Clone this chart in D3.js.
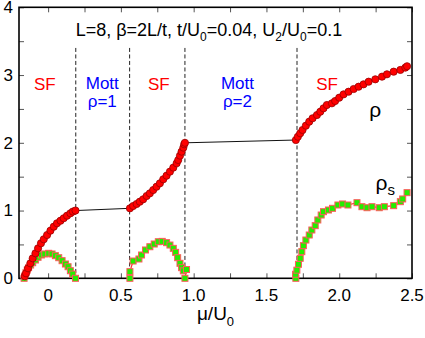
<!DOCTYPE html>
<html>
<head>
<meta charset="utf-8">
<script src="https://cdn.jsdelivr.net/npm/d3@7"></script>
<style>
  body { margin: 0; background: #fff; }
  svg text { font-family: "Liberation Sans", Arial, sans-serif; }
</style>
</head>
<body>
<script>
// density rho, three superfluid branches (the line runs across the Mott plateaus)
const rhoMu = [-0.161, -0.152, -0.138, -0.122, -0.106, -0.087, -0.069, -0.049, -0.030, -0.007, 0.016, 0.039, 0.061, 0.085, 0.107, 0.130, 0.153, 0.170, 0.188,
  0.562, 0.584, 0.608, 0.630, 0.653, 0.677, 0.699, 0.722, 0.745, 0.768, 0.791, 0.814, 0.837, 0.860, 0.883, 0.894, 0.906, 0.917, 0.929, 0.935, 0.940,
  1.702, 1.716, 1.732, 1.748, 1.771, 1.794, 1.817, 1.847, 1.870, 1.892, 1.915, 1.950, 1.972, 2.000, 2.030, 2.064, 2.099, 2.133, 2.167, 2.202, 2.248, 2.294, 2.328, 2.374, 2.420, 2.454, 2.466];
const rhoVal = [0.03, 0.074, 0.148, 0.221, 0.295, 0.369, 0.443, 0.517, 0.576, 0.639, 0.703, 0.762, 0.812, 0.850, 0.886, 0.924, 0.959, 0.985, 1.0,
  1.033, 1.067, 1.097, 1.131, 1.166, 1.215, 1.254, 1.303, 1.352, 1.402, 1.461, 1.515, 1.574, 1.633, 1.697, 1.746, 1.810, 1.869, 1.928, 1.978, 2.0,
  2.041, 2.090, 2.140, 2.189, 2.253, 2.312, 2.362, 2.410, 2.459, 2.509, 2.558, 2.583, 2.617, 2.666, 2.715, 2.754, 2.794, 2.828, 2.863, 2.902, 2.937, 2.976, 3.011, 3.050, 3.075, 3.109, 3.130];

// superfluid density rho_s, one array per SF dome
const rhosMu1 = [-0.165, -0.161, -0.152, -0.143, -0.134, -0.120, -0.106, -0.087, -0.069, -0.046, -0.023, 0.004, 0.027, 0.050, 0.073, 0.096, 0.119, 0.137, 0.153, 0.169, 0.188];
const rhosVal1 = [0.0, 0.034, 0.083, 0.122, 0.157, 0.196, 0.230, 0.270, 0.310, 0.344, 0.359, 0.369, 0.359, 0.334, 0.304, 0.260, 0.211, 0.171, 0.112, 0.063, 0.0];
const rhosMu2 = [0.562, 0.562, 0.584, 0.624, 0.642, 0.669, 0.699, 0.729, 0.757, 0.784, 0.814, 0.837, 0.860, 0.876, 0.890, 0.906, 0.917, 0.929, 0.951, 0.940];
const rhosVal2 = [0.0, 0.098, 0.255, 0.285, 0.344, 0.418, 0.466, 0.506, 0.540, 0.545, 0.526, 0.491, 0.442, 0.383, 0.304, 0.221, 0.157, 0.110, 0.130, 0.0];
const rhosMu3 = [1.702, 1.700, 1.709, 1.720, 1.732, 1.743, 1.754, 1.771, 1.794, 1.812, 1.835, 1.853, 1.876, 1.892, 1.926, 1.954, 1.991, 2.023, 2.060, 2.122, 2.156, 2.191, 2.225, 2.275, 2.310, 2.374, 2.420, 2.436, 2.466];
const rhosVal3 = [0.0, 0.060, 0.120, 0.207, 0.295, 0.393, 0.482, 0.565, 0.639, 0.713, 0.777, 0.861, 0.934, 0.983, 1.008, 1.033, 1.082, 1.097, 1.082, 1.116, 1.057, 1.042, 1.057, 1.042, 1.057, 1.072, 1.131, 1.171, 1.264];

// phase boundaries and labels
const boundaries = [0.19, 0.56, 0.94, 1.71];
const sfLabelMu = [-0.023, 0.761, 1.917];
const mottLabelMu = [0.372, 1.301];
const mottLabelText = ['ρ=1', 'ρ=2'];

const xTicks = [0, 0.5, 1.0, 1.5, 2.0, 2.5];
const xTickLabels = ['0', '0.5', '1.0', '1.5', '2.0', '2.5'];
const yTicks = [0, 1, 2, 3, 4];

const svgWidth = 425;
const svgHeight = 338;
const margin = { top: 7.3, right: 13, bottom: 59.7, left: 19 };
const width = svgWidth - margin.left - margin.right;
const height = svgHeight - margin.top - margin.bottom;

const svg = d3.select('body')
  .append('svg')
  .attr('width', svgWidth)
  .attr('height', svgHeight);

const g = svg.append('g')
  .attr('transform', `translate(${margin.left}, ${margin.top})`);

const x = d3.scaleLinear().domain([-0.2, 2.5]).range([0, width]);
const y = d3.scaleLinear().domain([0, 4]).range([height, 0]);

// dashed phase boundaries
g.selectAll('.bound')
  .data(boundaries)
  .enter()
  .append('line')
  .attr('x1', d => x(d)).attr('x2', d => x(d))
  .attr('y1', y(3.4)).attr('y2', y(0))
  .attr('stroke', '#222')
  .attr('stroke-width', 1)
  .attr('stroke-dasharray', '4,2.5');

// axes with inward ticks on all four sides
const minorX = d3.range(-0.0, 2.51, 0.25);
const minorY = d3.range(0, 4.01, 0.5);

g.append('g')
  .attr('transform', `translate(0, ${height})`)
  .call(d3.axisBottom(x).tickValues(minorX).tickSize(-5).tickFormat(''))
  .call(a => a.select('.domain').remove());
g.append('g')
  .call(d3.axisTop(x).tickValues(minorX).tickSize(-5).tickFormat(''))
  .call(a => a.select('.domain').remove());
g.append('g')
  .call(d3.axisLeft(y).tickValues(minorY).tickSize(-5).tickFormat(''))
  .call(a => a.select('.domain').remove());
g.append('g')
  .attr('transform', `translate(${width}, 0)`)
  .call(d3.axisRight(y).tickValues(minorY).tickSize(-5).tickFormat(''))
  .call(a => a.select('.domain').remove());
g.selectAll('.tick line').attr('stroke', '#555').attr('stroke-width', 1);

g.append('rect')
  .attr('width', width).attr('height', height)
  .attr('fill', 'none').attr('stroke', '#000').attr('stroke-width', 1.6);

// tick labels
g.selectAll('.xlab')
  .data(xTicks)
  .enter()
  .append('text')
  .attr('x', d => x(d))
  .attr('y', height + 23)
  .attr('text-anchor', 'middle')
  .attr('font-size', 17)
  .text((d, i) => xTickLabels[i]);

g.selectAll('.ylab')
  .data(yTicks)
  .enter()
  .append('text')
  .attr('x', -6)
  .attr('y', d => y(d))
  .attr('dy', '0.35em')
  .attr('text-anchor', 'end')
  .attr('font-size', 17)
  .text(d => d);

// rho_s: red line with green squares
const line = d3.line().x(d => x(d[0])).y(d => y(d[1]));
const domes = [
  d3.zip(rhosMu1, rhosVal1),
  d3.zip(rhosMu2, rhosVal2),
  d3.zip(rhosMu3, rhosVal3)
];
domes.forEach(pts => {
  g.append('path')
    .datum(pts)
    .attr('d', line)
    .attr('fill', 'none')
    .attr('stroke', '#ff3030')
    .attr('stroke-width', 1.2);
  g.selectAll(null)
    .data(pts)
    .enter()
    .append('rect')
    .attr('x', d => x(d[0]) - 3)
    .attr('y', d => y(d[1]) - 3)
    .attr('width', 6)
    .attr('height', 6)
    .attr('fill', '#22ee00')
    .attr('stroke', '#ff5a5a')
    .attr('stroke-width', 1);
});

// rho: black line with red circles
const rhoPts = d3.zip(rhoMu, rhoVal);
g.append('path')
  .datum(rhoPts)
  .attr('d', line)
  .attr('fill', 'none')
  .attr('stroke', '#111')
  .attr('stroke-width', 1);
g.selectAll('.rho')
  .data(rhoPts)
  .enter()
  .append('circle')
  .attr('cx', d => x(d[0]))
  .attr('cy', d => y(d[1]))
  .attr('r', 3.6)
  .attr('fill', '#ff0000')
  .attr('stroke', '#900')
  .attr('stroke-width', 0.8);

// phase labels
g.selectAll('.sf')
  .data(sfLabelMu)
  .enter()
  .append('text')
  .attr('x', d => x(d))
  .attr('y', y(2.78))
  .attr('text-anchor', 'middle')
  .attr('font-size', 17)
  .attr('fill', '#ff0000')
  .text('SF');

const mott = g.selectAll('.mott')
  .data(mottLabelMu)
  .enter()
  .append('text')
  .attr('text-anchor', 'middle')
  .attr('font-size', 17)
  .attr('fill', '#0000ff');
mott.append('tspan').attr('x', d => x(d)).attr('y', y(2.79)).text('Mott');
mott.append('tspan').attr('x', d => x(d)).attr('y', y(2.53)).text((d, i) => mottLabelText[i]);

// curve labels
g.append('text')
  .attr('x', x(2.248)).attr('y', y(2.375))
  .attr('text-anchor', 'middle')
  .attr('font-size', 21)
  .text('ρ');
const rs = g.append('text')
  .attr('x', x(2.25)).attr('y', y(1.30))
  .attr('font-size', 21);
rs.append('tspan').text('ρ');
rs.append('tspan').attr('dy', 5).attr('font-size', 15).text('s');

// title
const title = g.append('text')
  .attr('x', x(1.105)).attr('y', y(3.58))
  .attr('text-anchor', 'middle')
  .attr('font-size', 18);
title.append('tspan').text('L=8, β=2L/t, t/U');
title.append('tspan').attr('dy', 5).attr('font-size', 12).text('0');
title.append('tspan').attr('dy', -5).text('=0.04, U');
title.append('tspan').attr('dy', 5).attr('font-size', 12).text('2');
title.append('tspan').attr('dy', -5).text('/U');
title.append('tspan').attr('dy', 5).attr('font-size', 12).text('0');
title.append('tspan').attr('dy', -5).text('=0.1');

// x axis title
const xt = g.append('text')
  .attr('x', width / 2).attr('y', height + 41.7)
  .attr('text-anchor', 'middle')
  .attr('font-size', 19);
xt.append('tspan').text('μ/U');
xt.append('tspan').attr('dy', 6).attr('font-size', 13).text('0');
</script>
</body>
</html>
